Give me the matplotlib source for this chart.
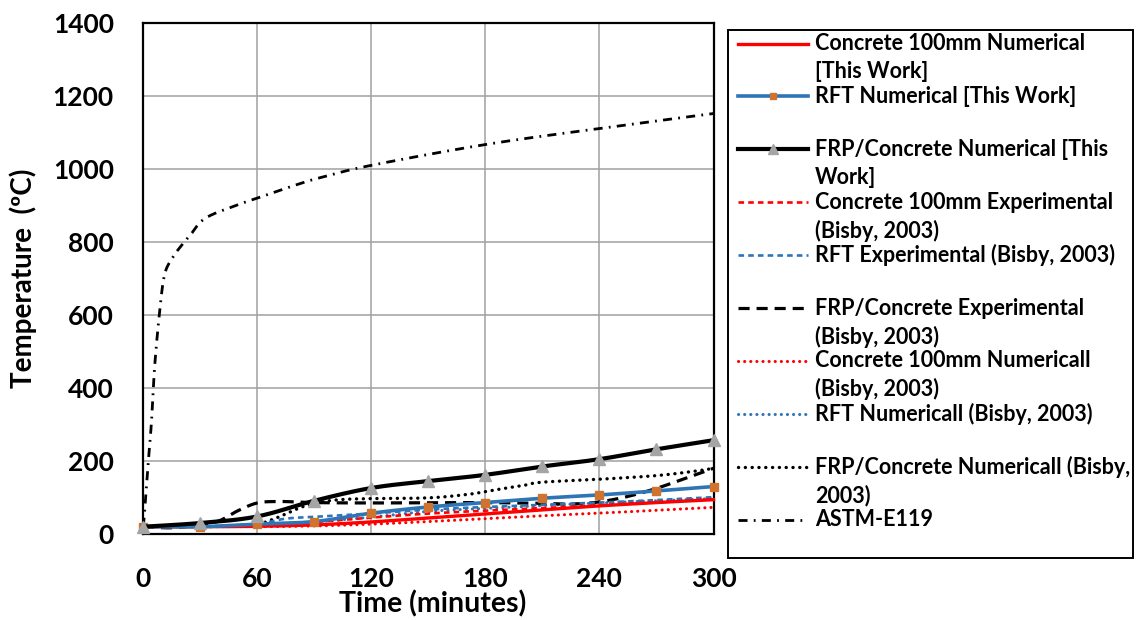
import numpy as np
import matplotlib
matplotlib.use("Agg")
import matplotlib.pyplot as plt
from matplotlib.lines import Line2D
from matplotlib.patches import Rectangle

plt.rcParams['font.family'] = ['Lato', 'DejaVu Sans']
plt.rcParams['font.weight'] = 'bold'
plt.rcParams['lines.scale_dashes'] = False

# ---- data (time in minutes, temperature in degC) ----
t_30 = [0, 30, 60, 90, 120, 150, 180, 210, 240, 270, 300]

concrete_num_this = [20, 20, 21, 25, 33, 44, 55, 66, 77, 86, 94]
rft_num_this = [20, 20, 27, 34, 57, 74, 86, 98, 107, 118, 130]
frp_num_this = [20, 30, 48, 91, 126, 145, 162, 185, 205, 232, 257]

concrete_exp = [20, 20, 25, 33, 45, 56, 64, 71, 79, 87, 95]

t_rft_exp = [0, 30, 60, 75, 90, 120, 150, 180, 210, 240, 270, 300]
rft_exp = [20, 20, 28, 42, 47, 56, 67, 74, 80, 86, 93, 101]

t_frp_exp = [0, 15, 30, 40, 50, 60, 70, 80, 90, 120, 150, 180, 210, 225,
             240, 255, 270, 285, 300]
frp_exp = [20, 17, 25, 36, 64, 85, 89, 88, 86, 85, 86, 86, 84, 82,
           88, 103, 125, 152, 180]

concrete_num_bisby = [20, 20, 20, 22, 27, 34, 42, 50, 57, 65, 73]
rft_num_bisby = [20, 20, 24, 33, 46, 62, 70, 78, 85, 91, 97]

t_frp_bisby = [0, 30, 50, 60, 65, 72, 82, 91, 103, 120, 150, 170, 180, 190,
               200, 210, 240, 270, 290, 300]
frp_num_bisby = [20, 20, 22, 26, 34, 48, 71, 85, 94, 97, 99, 108, 116, 125,
                 133, 142, 150, 160, 172, 180]

t_astm = [0, 0.5, 2, 4.4, 6.1, 8.8, 11.4, 15.7, 20, 25, 33, 51, 60, 79, 93,
          120, 180, 240, 300]
astm_e119 = [20, 39, 148, 303, 457, 612, 712, 758, 789, 820, 866, 904, 920,
             954, 976, 1010, 1067, 1111, 1152]

x_ticks = [0, 60, 120, 180, 240, 300]
y_ticks = [0, 200, 400, 600, 800, 1000, 1200, 1400]

labels = [
    "Concrete 100mm Numerical\n[This Work]",
    "RFT Numerical [This Work]",
    "FRP/Concrete Numerical [This\nWork]",
    "Concrete 100mm Experimental\n(Bisby, 2003)",
    "RFT Experimental (Bisby, 2003)",
    "FRP/Concrete Experimental\n(Bisby, 2003)",
    "Concrete 100mm Numericall\n(Bisby, 2003)",
    "RFT Numericall (Bisby, 2003)",
    "FRP/Concrete Numericall (Bisby,\n2003)",
    "ASTM-E119",
]

RED = '#FF0000'
BLUE = '#2E75B6'
ORANGE = '#D0732E'
GRAY = '#A5A5A5'

W, H = 1137, 620
fig = plt.figure(figsize=(W / 100, H / 100), dpi=100)
ax = fig.add_axes([143 / W, (H - 534) / H, 570.5 / W, 511 / H])
ax.set_xlim(0, 300)
ax.set_ylim(0, 1400)

# axis-to-pixel scaling used for smoothing in visual space
SX, SY = 570.5 / 300, 511 / 1400


def smooth(x, y, n=24):
    """Catmull-Rom curve through the given points (Excel-like smoothed line)."""
    p = np.column_stack([np.asarray(x, float) * SX, np.asarray(y, float) * SY])
    p = np.vstack([p[0], p, p[-1]])
    out = []
    s = np.linspace(0, 1, n, endpoint=False)[:, None]
    for i in range(1, len(p) - 2):
        p0, p1, p2, p3 = p[i - 1], p[i], p[i + 1], p[i + 2]
        seg = 0.5 * (2 * p1 + (-p0 + p2) * s + (2 * p0 - 5 * p1 + 4 * p2 - p3) * s ** 2
                     + (-p0 + 3 * p1 - 3 * p2 + p3) * s ** 3)
        out.append(seg)
    out.append(p[-2][None, :])
    c = np.vstack(out)
    return c[:, 0] / SX, c[:, 1] / SY


styles = [
    dict(color=RED, lw=2.4, ls='-'),
    dict(color=BLUE, lw=2.6, ls='-', marker='s', mfc=ORANGE, mec=ORANGE, ms=6),
    dict(color='black', lw=3.0, ls='-', marker='^', mfc=GRAY, mec=GRAY, ms=9),
    dict(color=RED, lw=1.9, ls=(0, (4, 3))),
    dict(color=BLUE, lw=1.9, ls=(0, (4, 3))),
    dict(color='black', lw=2.3, ls=(0, (8, 5))),
    dict(color=RED, lw=2.2, ls=(0, (0.1, 4.3)), dash_capstyle='round'),
    dict(color=BLUE, lw=2.2, ls=(0, (0.1, 4.3)), dash_capstyle='round'),
    dict(color='black', lw=2.4, ls=(0, (0.1, 4.8)), dash_capstyle='round'),
    dict(color='black', lw=2.0, ls=(0, (6.5, 4.5, 1.3, 4.5))),
]

series = [
    (t_30, concrete_num_this),
    (t_30, rft_num_this),
    (t_30, frp_num_this),
    (t_30, concrete_exp),
    (t_rft_exp, rft_exp),
    (t_frp_exp, frp_exp),
    (t_30, concrete_num_bisby),
    (t_30, rft_num_bisby),
    (t_frp_bisby, frp_num_bisby),
    (t_astm, astm_e119),
]

zorders = [6, 7, 8, 4, 4, 4, 3, 3, 3, 2]
draw_order = [9, 8, 7, 6, 5, 4, 3, 0, 1, 2]
for i in draw_order:
    x, y = series[i]
    st = dict(styles[i])
    marker = st.pop('marker', None)
    mfc = st.pop('mfc', None)
    mec = st.pop('mec', None)
    ms = st.pop('ms', None)
    xs, ys = smooth(x, y)
    ax.plot(xs, ys, zorder=zorders[i], clip_on=False, **st)
    if marker:
        ax.plot(x, y, ls='none', marker=marker, mfc=mfc, mec=mec, ms=ms,
                zorder=zorders[i] + 0.5, clip_on=False)

# axes styling
ax.set_xticks(x_ticks)
ax.set_yticks(y_ticks)
ax.set_xticklabels([str(v) for v in x_ticks])
ax.set_yticklabels([str(v) for v in y_ticks])
ax.grid(True, color='#A0A0A0', lw=1.1)
ax.set_axisbelow(True)
for sp in ax.spines.values():
    sp.set_color('black')
    sp.set_linewidth(1.6)
ax.tick_params(axis='both', length=0, labelsize=19)
ax.tick_params(axis='x', pad=24)
ax.tick_params(axis='y', pad=21)
for lab in ax.get_xticklabels() + ax.get_yticklabels():
    lab.set_fontweight('bold')

ax.set_xlabel("Time (minutes)", fontsize=20.5, fontweight='bold', va='center')
ax.set_ylabel("Temperature  (ºC)", fontsize=20, fontweight='bold', va='center')
ax.xaxis.set_label_coords((433 - 143) / 570.5, -(604 - 534) / 511)
ax.yaxis.set_label_coords(-(143 - 23) / 570.5, 0.5)


# ---- legend box drawn in pixel coordinates ----
def fx(px):
    return px / W


def fy(py):
    return 1 - py / H


fig.add_artist(Rectangle((fx(728), fy(558)), (1133 - 728) / W, (558 - 30) / H,
                         transform=fig.transFigure, fill=False,
                         edgecolor='black', lw=1.4))

row_y0, row_step, line_step = 43.5, 52.9, 28.5
for i, lab in enumerate(labels):
    yy = row_y0 + i * row_step
    st = dict(styles[i])
    marker = st.pop('marker', None)
    mfc = st.pop('mfc', None)
    mec = st.pop('mec', None)
    ms = st.pop('ms', None)
    if marker:
        st.update(marker=marker, mfc=mfc, mec=mec, ms=ms * 0.75, markevery=[1])
    fig.add_artist(Line2D([fx(738), fx(773), fx(808)], [fy(yy)] * 3,
                          transform=fig.transFigure, **st))
    for j, line in enumerate(lab.split("\n")):
        fig.text(fx(815), fy(yy + j * line_step), line, fontsize=15.5,
                 fontweight='bold', ha='left', va='center')

fig.savefig("out.png", dpi=100)
